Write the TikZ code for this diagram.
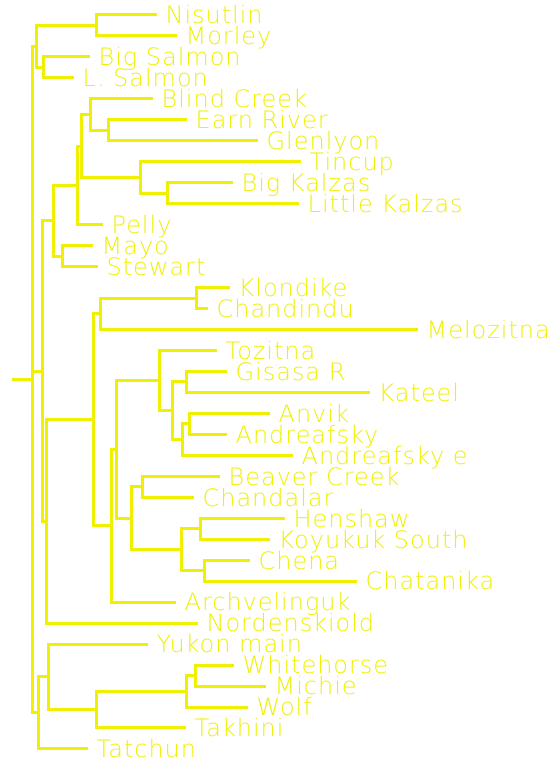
\documentclass[tikz,border=0pt]{standalone}
\usepackage{fontspec}
\setmainfont{DejaVu Sans ExtraLight}[LetterSpace=4]
\definecolor{treeyellow}{RGB}{240,240,0}
\newcommand\leaf[4]{%
  \coordinate (#1) at (#2,{ry(#3)});
  \node[taxon] (#1t) at ([xshift=8.5pt,yshift=-8.8pt]#1) {#4};}
\begin{document}
\begin{tikzpicture}[x=1pt,y=-1pt,
  declare function={ry(\r)=15+20.97*(\r-1);},
  branch/.style={draw=treeyellow, line width=3pt, line join=miter, line cap=butt},
  taxon/.style={anchor=base west, inner sep=0pt, text=treeyellow, font=\fontsize{24}{24}\selectfont}]
\useasboundingbox (0,0) rectangle (554,762);
\fill[white] (0,0) rectangle (554,762);

% leaves
\leaf{l1}{157}{1}{Nisutlin}
\leaf{l2}{177}{2}{Morley}
\leaf{l3}{90}{3}{Big Salmon}
\leaf{l4}{74}{4}{L. Salmon}
\leaf{l5}{153}{5}{Blind Creek}
\leaf{l6}{187}{6}{Earn River}
\leaf{l7}{258}{7}{Glenlyon}
\leaf{l8}{301}{8}{Tincup}
\leaf{l9}{233}{9}{Big Kalzas}
\leaf{l10}{299}{10}{Little Kalzas}
\leaf{l11}{103}{11}{Pelly}
\leaf{l12}{93}{12}{Mayo}
\leaf{l13}{98}{13}{Stewart}
\leaf{l14}{230}{14}{Klondike}
\leaf{l15}{208}{15}{Chandindu}
\leaf{l16}{418}{16}{Melozitna}
\leaf{l17}{217}{17}{Tozitna}
\leaf{l18}{227}{18}{Gisasa R}
\leaf{l19}{370}{19}{Kateel}
\leaf{l20}{270}{20}{Anvik}
\leaf{l21}{227}{21}{Andreafsky}
\leaf{l22}{293}{22}{Andreafsky e}
\leaf{l23}{220}{23}{Beaver Creek}
\leaf{l24}{194}{24}{Chandalar}
\leaf{l25}{285}{25}{Henshaw}
\leaf{l26}{270}{26}{Koyukuk South}
\leaf{l27}{250}{27}{Chena}
\leaf{l28}{357}{28}{Chatanika}
\leaf{l29}{176}{29}{Archvelinguk}
\leaf{l30}{198}{30}{Nordenskiold}
\leaf{l31}{148}{31}{Yukon main}
\leaf{l32}{234}{32}{Whitehorse}
\leaf{l33}{266}{33}{Michie}
\leaf{l34}{248}{34}{Wolf}
\leaf{l35}{186}{35}{Takhini}
\leaf{l36}{88}{36}{Tatchun}

% internal nodes
\coordinate (nm) at (96,{ry(1.5)});
\coordinate (bl) at (43,{ry(3.5)});
\coordinate (a)  at (36,{ry(2.5)});
\coordinate (eg) at (108,{ry(6.5)});
\coordinate (g)  at (90,{ry(5.75)});
\coordinate (kz) at (167,{ry(9.5)});
\coordinate (h)  at (140,{ry(8.75)});
\coordinate (f)  at (81,{ry(7.25)});
\coordinate (e)  at (77,{ry(9.125)});
\coordinate (ms) at (62,{ry(12.5)});
\coordinate (c)  at (53,{ry(10.8125)});
\coordinate (kc) at (196,{ry(14.5)});
\coordinate (j)  at (100,{ry(15.25)});
\coordinate (gk) at (186,{ry(18.5)});
\coordinate (q)  at (189,{ry(20.5)});
\coordinate (p)  at (182,{ry(21.25)});
\coordinate (n)  at (172,{ry(19.875)});
\coordinate (m)  at (159,{ry(18.4375)});
\coordinate (s)  at (142,{ry(23.5)});
\coordinate (u)  at (200,{ry(25.5)});
\coordinate (v)  at (204,{ry(27.5)});
\coordinate (t)  at (181,{ry(26.5)});
\coordinate (r)  at (131,{ry(25)});
\coordinate (l)  at (116,{ry(21.71875)});
\coordinate (k)  at (111,{ry(25.359375)});
\coordinate (i)  at (93,{ry(20.3046875)});
\coordinate (d)  at (46,{ry(25.15234)});
\coordinate (b)  at (42,{ry(17.98242)});
\coordinate (z)  at (195,{ry(32.5)});
\coordinate (y)  at (186,{ry(33.25)});
\coordinate (x)  at (96,{ry(34.125)});
\coordinate (w)  at (48,{ry(32.5625)});
\coordinate (bot) at (38,{ry(34.28125)});
\coordinate (root) at (32,{ry(18.390625)});
\coordinate (stub) at (12,{ry(18.390625)});

% connectors
\draw[branch] (stub) -- (root);
\foreach \p/\c in {root/a, root/b, root/bot,
  a/nm, a/bl, nm/l1, nm/l2, bl/l3, bl/l4,
  b/c, b/d,
  c/e, c/ms, ms/l12, ms/l13,
  e/f, e/l11, f/g, f/h, g/l5, g/eg, eg/l6, eg/l7,
  h/l8, h/kz, kz/l9, kz/l10,
  d/i, d/l30, i/j, i/k, j/kc, j/l16, kc/l14, kc/l15,
  k/l, k/l29, l/m, l/r,
  m/l17, m/n, n/gk, n/p, gk/l18, gk/l19, p/q, p/l22, q/l20, q/l21,
  r/s, r/t, s/l23, s/l24, t/u, t/v, u/l25, u/l26, v/l27, v/l28,
  bot/w, bot/l36, w/l31, w/x, x/y, x/l35, y/z, y/l34, z/l32, z/l33}
  \draw[branch] (\p) |- (\c);
\end{tikzpicture}
\end{document}
